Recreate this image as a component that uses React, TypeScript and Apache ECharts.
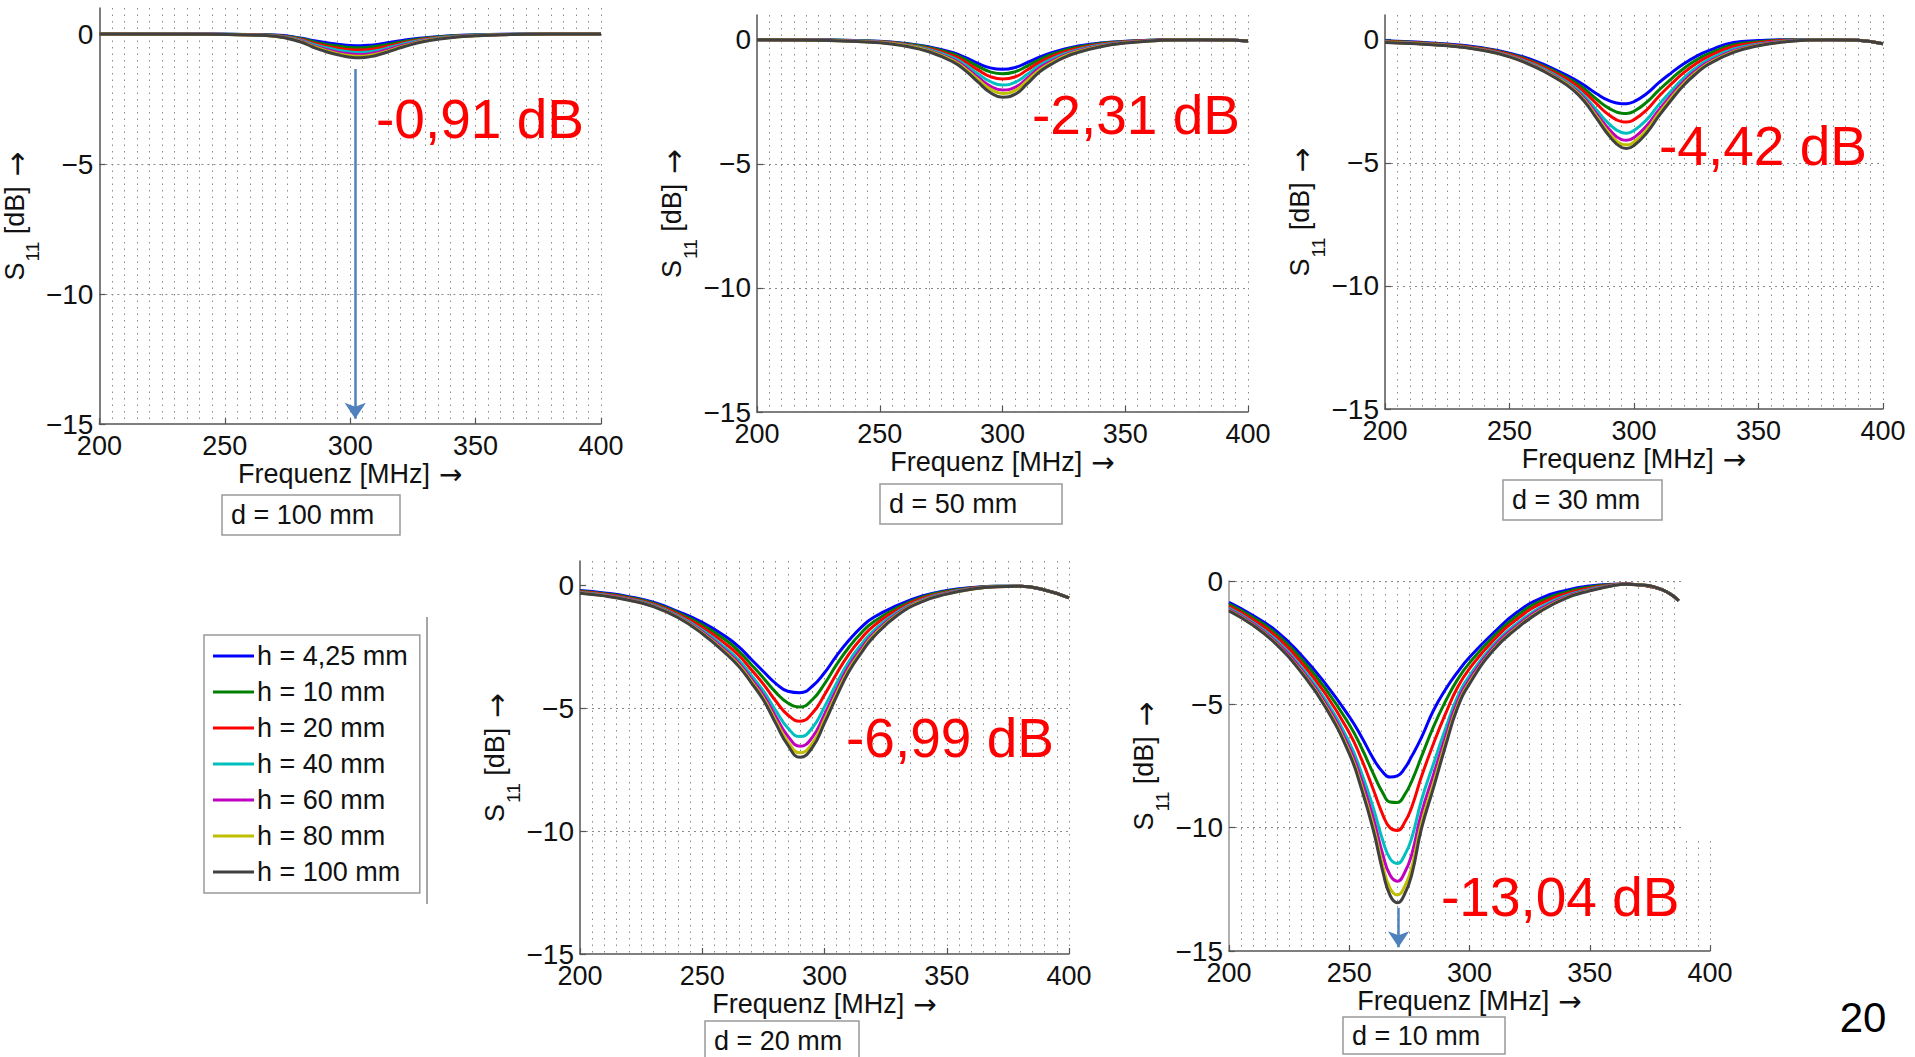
import React, { useEffect, useRef } from 'react';
import * as echarts from 'echarts';

// ---------- labels ----------
const H_LABELS = ['h = 4,25 mm', 'h = 10 mm', 'h = 20 mm', 'h = 40 mm', 'h = 60 mm', 'h = 80 mm', 'h = 100 mm'];
const D_LABELS = ['d = 100 mm', 'd = 50 mm', 'd = 30 mm', 'd = 20 mm', 'd = 10 mm'];
const DIP_LABELS = ['-0,91 dB', '-2,31 dB', '-4,42 dB', '-6,99 dB', '-13,04 dB'];
const Y_TICKS = [-15, -10, -5, 0];
const PAGE_NUMBER = '20';
const COLORS = ['#0000ff', '#008000', '#ff0000', '#00bfbf', '#bf00bf', '#bfbf00', '#404040'];

// ---------- d = 100 mm ----------
const FREQ_D100 = [200, 240, 260, 270, 280, 285, 290, 295, 300, 304, 308, 312, 316, 320, 325, 330, 340, 350, 360, 380, 400];
const D100_H4 = [0, 0, -0.02, -0.04, -0.15, -0.25, -0.33, -0.39, -0.44, -0.45, -0.43, -0.38, -0.32, -0.26, -0.19, -0.14, -0.07, -0.03, -0.01, 0, 0];
const D100_H10 = [0, -0.01, -0.02, -0.05, -0.17, -0.29, -0.39, -0.46, -0.52, -0.53, -0.5, -0.45, -0.38, -0.31, -0.23, -0.16, -0.08, -0.04, -0.02, 0, 0];
const D100_H20 = [0, -0.01, -0.03, -0.06, -0.2, -0.34, -0.46, -0.54, -0.61, -0.62, -0.59, -0.53, -0.45, -0.36, -0.27, -0.19, -0.1, -0.05, -0.02, 0, 0];
const D100_H40 = [0, -0.01, -0.03, -0.07, -0.23, -0.39, -0.52, -0.62, -0.69, -0.71, -0.68, -0.61, -0.51, -0.41, -0.3, -0.22, -0.11, -0.05, -0.02, 0, 0];
const D100_H60 = [0, -0.01, -0.03, -0.08, -0.26, -0.44, -0.58, -0.7, -0.77, -0.79, -0.76, -0.68, -0.57, -0.46, -0.34, -0.24, -0.12, -0.06, -0.03, 0, 0];
const D100_H80 = [0, -0.01, -0.04, -0.09, -0.28, -0.47, -0.63, -0.76, -0.84, -0.86, -0.82, -0.74, -0.62, -0.5, -0.37, -0.26, -0.13, -0.07, -0.03, 0, 0];
const D100_H100 = [0, -0.01, -0.04, -0.09, -0.3, -0.5, -0.67, -0.8, -0.89, -0.91, -0.87, -0.78, -0.66, -0.53, -0.39, -0.28, -0.14, -0.07, -0.03, 0, 0];

// ---------- d = 50 mm ----------
const FREQ_D50 = [200, 230, 250, 260, 270, 280, 285, 290, 295, 300, 305, 310, 315, 320, 325, 330, 340, 350, 360, 370, 380, 390, 400];
const D50_H4 = [0, -0.01, -0.06, -0.14, -0.28, -0.52, -0.72, -0.95, -1.13, -1.19, -1.12, -0.92, -0.7, -0.52, -0.38, -0.27, -0.13, -0.06, -0.02, 0, 0, -0.01, -0.05];
const D50_H10 = [0, -0.01, -0.07, -0.16, -0.31, -0.58, -0.8, -1.07, -1.29, -1.37, -1.29, -1.06, -0.8, -0.59, -0.43, -0.31, -0.15, -0.07, -0.02, 0, 0, -0.01, -0.05];
const D50_H20 = [0, -0.02, -0.08, -0.18, -0.35, -0.65, -0.91, -1.21, -1.48, -1.58, -1.5, -1.22, -0.91, -0.68, -0.5, -0.36, -0.18, -0.08, -0.03, 0, 0, -0.01, -0.05];
const D50_H40 = [0, -0.02, -0.09, -0.2, -0.39, -0.73, -1.02, -1.37, -1.68, -1.82, -1.72, -1.4, -1.04, -0.78, -0.57, -0.42, -0.21, -0.1, -0.04, -0.01, 0, -0.01, -0.05];
const D50_H60 = [0, -0.02, -0.1, -0.22, -0.43, -0.8, -1.11, -1.51, -1.86, -2.02, -1.92, -1.56, -1.14, -0.86, -0.63, -0.46, -0.24, -0.11, -0.04, -0.01, 0, -0.01, -0.05];
const D50_H80 = [0, -0.03, -0.11, -0.23, -0.45, -0.85, -1.18, -1.6, -1.98, -2.16, -2.05, -1.66, -1.22, -0.92, -0.67, -0.49, -0.26, -0.12, -0.05, -0.01, 0, -0.01, -0.05];
const D50_H100 = [0, -0.03, -0.12, -0.25, -0.48, -0.9, -1.25, -1.7, -2.12, -2.31, -2.2, -1.78, -1.3, -0.98, -0.72, -0.53, -0.28, -0.13, -0.05, -0.01, 0, -0.01, -0.05];

// ---------- d = 30 mm ----------
const FREQ_D30 = [200, 225, 240, 250, 260, 270, 275, 280, 285, 290, 295, 297, 300, 305, 310, 315, 320, 325, 330, 340, 350, 360, 370, 380, 390, 400];
const D30_H4 = [-0.05, -0.18, -0.35, -0.55, -0.85, -1.3, -1.55, -1.85, -2.2, -2.48, -2.6, -2.6, -2.52, -2.2, -1.75, -1.35, -0.98, -0.68, -0.45, -0.12, -0.04, 0, 0, 0, -0.03, -0.17];
const D30_H10 = [-0.06, -0.2, -0.37, -0.58, -0.91, -1.38, -1.65, -1.99, -2.42, -2.79, -2.99, -3.0, -2.91, -2.55, -2.05, -1.59, -1.17, -0.83, -0.57, -0.21, -0.09, -0.02, 0, 0, -0.03, -0.17];
const D30_H20 = [-0.08, -0.21, -0.39, -0.61, -0.95, -1.44, -1.73, -2.12, -2.61, -3.06, -3.33, -3.35, -3.25, -2.86, -2.3, -1.8, -1.34, -0.97, -0.68, -0.28, -0.13, -0.04, -0.01, 0, -0.03, -0.17];
const D30_H40 = [-0.1, -0.23, -0.42, -0.65, -1.02, -1.53, -1.85, -2.28, -2.86, -3.42, -3.77, -3.8, -3.69, -3.26, -2.64, -2.08, -1.55, -1.14, -0.81, -0.38, -0.18, -0.07, -0.01, 0, -0.03, -0.17];
const D30_H60 = [-0.11, -0.24, -0.43, -0.67, -1.06, -1.59, -1.92, -2.38, -3.02, -3.64, -4.06, -4.09, -3.98, -3.51, -2.86, -2.25, -1.69, -1.25, -0.9, -0.45, -0.21, -0.08, -0.02, 0, -0.03, -0.17];
const D30_H80 = [-0.11, -0.24, -0.44, -0.69, -1.08, -1.62, -1.96, -2.45, -3.12, -3.79, -4.24, -4.27, -4.16, -3.67, -2.99, -2.36, -1.78, -1.32, -0.96, -0.49, -0.23, -0.09, -0.02, 0, -0.03, -0.17];
const D30_H100 = [-0.12, -0.25, -0.45, -0.7, -1.1, -1.65, -2.0, -2.5, -3.2, -3.9, -4.38, -4.42, -4.3, -3.8, -3.1, -2.45, -1.85, -1.38, -1.0, -0.52, -0.25, -0.1, -0.02, 0, -0.03, -0.17];

// ---------- d = 20 mm ----------
const FREQ_D20 = [200, 210, 220, 230, 240, 250, 260, 265, 270, 275, 280, 285, 290, 295, 300, 305, 310, 315, 320, 330, 340, 350, 360, 370, 380, 390, 400];
const D20_H4 = [-0.2, -0.3, -0.45, -0.68, -1.05, -1.5, -2.1, -2.5, -3.0, -3.5, -3.98, -4.3, -4.36, -4.1, -3.55, -2.85, -2.23, -1.7, -1.3, -0.8, -0.42, -0.2, -0.08, -0.03, -0.03, -0.18, -0.5];
const D20_H10 = [-0.22, -0.33, -0.48, -0.72, -1.11, -1.6, -2.25, -2.68, -3.21, -3.76, -4.34, -4.78, -4.94, -4.65, -4.0, -3.21, -2.51, -1.93, -1.48, -0.89, -0.47, -0.23, -0.1, -0.03, -0.03, -0.18, -0.5];
const D20_H20 = [-0.25, -0.35, -0.52, -0.76, -1.16, -1.7, -2.41, -2.85, -3.42, -4.01, -4.69, -5.27, -5.52, -5.2, -4.45, -3.58, -2.79, -2.16, -1.65, -0.98, -0.52, -0.27, -0.11, -0.04, -0.03, -0.18, -0.5];
const D20_H40 = [-0.28, -0.38, -0.55, -0.8, -1.22, -1.81, -2.58, -3.04, -3.65, -4.29, -5.08, -5.8, -6.15, -5.8, -4.94, -3.97, -3.09, -2.41, -1.84, -1.07, -0.58, -0.3, -0.13, -0.04, -0.03, -0.18, -0.5];
const D20_H60 = [-0.29, -0.4, -0.57, -0.83, -1.26, -1.88, -2.68, -3.16, -3.79, -4.46, -5.32, -6.13, -6.54, -6.18, -5.25, -4.22, -3.28, -2.57, -1.96, -1.13, -0.61, -0.32, -0.14, -0.05, -0.03, -0.18, -0.5];
const D20_H80 = [-0.3, -0.41, -0.59, -0.85, -1.28, -1.93, -2.75, -3.24, -3.88, -4.58, -5.49, -6.35, -6.81, -6.43, -5.46, -4.38, -3.41, -2.68, -2.04, -1.17, -0.63, -0.34, -0.15, -0.05, -0.03, -0.18, -0.5];
const D20_H100 = [-0.31, -0.42, -0.6, -0.86, -1.3, -1.96, -2.8, -3.3, -3.95, -4.66, -5.6, -6.5, -6.99, -6.6, -5.6, -4.5, -3.5, -2.75, -2.1, -1.2, -0.65, -0.35, -0.15, -0.05, -0.03, -0.18, -0.5];

// ---------- d = 10 mm ----------
const FREQ_D10 = [200, 210, 220, 230, 240, 250, 255, 260, 264, 267, 270, 273, 276, 280, 285, 290, 295, 300, 310, 320, 330, 340, 350, 360, 365, 370, 380, 387];
const D10_H4 = [-0.87, -1.4, -2.05, -3.0, -4.15, -5.5, -6.3, -7.2, -7.75, -7.95, -7.9, -7.6, -7.1, -6.35, -5.25, -4.4, -3.7, -3.09, -2.1, -1.25, -0.68, -0.38, -0.2, -0.13, -0.12, -0.15, -0.35, -0.8];
const D10_H10 = [-0.94, -1.48, -2.17, -3.15, -4.35, -5.82, -6.74, -7.81, -8.6, -8.96, -8.98, -8.67, -8.11, -7.13, -5.91, -4.88, -4.0, -3.32, -2.25, -1.39, -0.79, -0.45, -0.24, -0.14, -0.12, -0.15, -0.35, -0.8];
const D10_H20 = [-1.02, -1.57, -2.29, -3.3, -4.56, -6.15, -7.2, -8.45, -9.49, -10.01, -10.11, -9.79, -9.16, -7.94, -6.6, -5.39, -4.32, -3.55, -2.4, -1.53, -0.9, -0.52, -0.29, -0.15, -0.12, -0.15, -0.35, -0.8];
const D10_H40 = [-1.1, -1.68, -2.43, -3.48, -4.81, -6.54, -7.75, -9.2, -10.54, -11.26, -11.45, -11.12, -10.41, -8.9, -7.42, -5.99, -4.7, -3.84, -2.58, -1.7, -1.04, -0.6, -0.34, -0.16, -0.13, -0.15, -0.35, -0.8];
const D10_H60 = [-1.15, -1.73, -2.51, -3.58, -4.94, -6.75, -8.04, -9.61, -11.11, -11.93, -12.17, -11.83, -11.08, -9.42, -7.86, -6.31, -4.9, -3.99, -2.68, -1.79, -1.11, -0.65, -0.37, -0.17, -0.13, -0.15, -0.35, -0.8];
const D10_H80 = [-1.19, -1.78, -2.57, -3.66, -5.04, -6.91, -8.27, -9.93, -11.56, -12.46, -12.73, -12.39, -11.61, -9.83, -8.21, -6.56, -5.06, -4.11, -2.76, -1.86, -1.17, -0.68, -0.39, -0.18, -0.13, -0.15, -0.35, -0.8];
const D10_H100 = [-1.21, -1.8, -2.6, -3.7, -5.1, -7.0, -8.4, -10.1, -11.8, -12.75, -13.04, -12.7, -11.9, -10.05, -8.4, -6.7, -5.15, -4.17, -2.8, -1.9, -1.2, -0.7, -0.4, -0.18, -0.13, -0.15, -0.35, -0.8];

// arrows marking the deepest minimum (MHz, dB)
const ARROW_D100 = [[302, -1.35], [302, -14.8]];
const ARROW_D10 = [[270.5, -13.25], [270.5, -14.85]];

const PLOTS = [
  { freq: FREQ_D100, curves: [D100_H4, D100_H10, D100_H20, D100_H40, D100_H60, D100_H80, D100_H100], yMax: 1 },
  { freq: FREQ_D50, curves: [D50_H4, D50_H10, D50_H20, D50_H40, D50_H60, D50_H80, D50_H100], yMax: 1 },
  { freq: FREQ_D30, curves: [D30_H4, D30_H10, D30_H20, D30_H40, D30_H60, D30_H80, D30_H100], yMax: 1 },
  { freq: FREQ_D20, curves: [D20_H4, D20_H10, D20_H20, D20_H40, D20_H60, D20_H80, D20_H100], yMax: 1 },
  { freq: FREQ_D10, curves: [D10_H4, D10_H10, D10_H20, D10_H40, D10_H60, D10_H80, D10_H100], yMax: 0 },
];

// ---------- layout (pixels) ----------
const LAYOUT = [
  { left: 98, top: 8, width: 503, height: 416, box: [222, 495, 178, 40], dip: [376, 119], yAxisColor: '#555' },
  { left: 757, top: 15, width: 491, height: 397, box: [880, 484, 182, 40], dip: [1032, 115], yAxisColor: '#555' },
  { left: 1385, top: 15, width: 498, height: 394, box: [1503, 480, 159, 40], dip: [1659, 146], yAxisColor: '#555' },
  { left: 580, top: 561, width: 489, height: 393, box: [705, 1021, 154, 40], dip: [846, 738], yAxisColor: '#555' },
  { left: 1229, top: 581, width: 481, height: 370, box: [1343, 1017, 162, 37], dip: [1441, 897], yAxisColor: '#999' },
];

const FONT = '"Liberation Sans", Arial, Helvetica, sans-serif';
const ARROW_FONT = '"DejaVu Sans", sans-serif';
const DOT = [1.5, 5];

export default function App() {
  const ref = useRef<HTMLDivElement>(null);

  useEffect(() => {
    if (!ref.current) return;
    const chart = echarts.init(ref.current, undefined, { renderer: 'svg' });

    const grid = LAYOUT.map((l) => ({ left: l.left, top: l.top, width: l.width, height: l.height, containLabel: false }));

    const xAxis = PLOTS.map((_, i) => ({
      type: 'value',
      gridIndex: i,
      min: 200,
      max: 400,
      interval: 50,
      name: '{t|Frequenz [MHz]}{r| →}',
      nameLocation: 'middle',
      nameGap: 34,
      nameTextStyle: {
        fontSize: 27,
        color: '#111',
        fontFamily: FONT,
        rich: {
          t: { fontSize: 27, color: '#111', fontFamily: FONT, lineHeight: 32 },
          r: { fontSize: 28, color: '#111', fontFamily: ARROW_FONT, lineHeight: 32 },
        },
      },
      axisLine: { show: true, onZero: false, lineStyle: { color: '#555', width: 1.5 } },
      axisTick: { show: true, inside: true, length: 6, lineStyle: { color: '#555', width: 1.2 } },
      axisLabel: { fontSize: 27, color: '#111', fontFamily: FONT, margin: 8 },
      splitLine: { show: true, showMinLine: false, lineStyle: { color: '#8a8a8a', width: 1, type: DOT } },
      minorTick: { show: false, splitNumber: 10 },
      minorSplitLine: { show: true, lineStyle: { color: '#8a8a8a', width: 1, type: DOT } },
    }));

    const yAxis = PLOTS.map((p, i) => ({
      type: 'value',
      gridIndex: i,
      min: -15,
      max: p.yMax,
      interval: 5,
      name: '{a|S}{b|11}{a| [dB]}{r| →}',
      nameLocation: 'middle',
      nameRotate: 90,
      nameGap: 52,
      nameTextStyle: {
        color: '#111',
        fontFamily: FONT,
        rich: {
          a: { fontSize: 27, lineHeight: 34, verticalAlign: 'top', fontFamily: FONT, color: '#111' },
          b: { fontSize: 19, lineHeight: 20, padding: [22, 0, 0, 1], verticalAlign: 'top', fontFamily: FONT, color: '#111' },
          r: { fontSize: 30, lineHeight: 34, verticalAlign: 'top', fontFamily: ARROW_FONT, color: '#111' },
        },
      },
      axisLine: { show: true, onZero: false, lineStyle: { color: LAYOUT[i].yAxisColor, width: 1.5 } },
      axisTick: { show: true, inside: true, length: 6, customValues: Y_TICKS, lineStyle: { color: '#555', width: 1.2 } },
      axisLabel: {
        fontSize: 28,
        color: '#111',
        fontFamily: FONT,
        margin: 6,
        customValues: Y_TICKS,
        formatter: (v: number) => (v < 0 ? '\u2212' + String(-v) : String(v)),
      },
      splitLine: {
        show: true,
        showMinLine: false,
        showMaxLine: p.yMax === 0,
        lineStyle: { color: '#8a8a8a', width: 1, type: [2, 4] },
      },
    }));

    const series: any[] = [];
    PLOTS.forEach((p, i) => {
      p.curves.forEach((vals, j) => {
        const s: any = {
          type: 'line',
          name: H_LABELS[j],
          xAxisIndex: i,
          yAxisIndex: i,
          data: p.freq.map((f, k) => [f, vals[k]]),
          symbol: 'none',
          smooth: 0.5,
          lineStyle: { color: COLORS[j], width: 3 },
          itemStyle: { color: COLORS[j] },
          emphasis: { disabled: true },
          z: 3,
        };
        if (j === 6 && (i === 0 || i === 4)) {
          const a = i === 0 ? ARROW_D100 : ARROW_D10;
          s.markLine = {
            silent: true,
            symbol: ['none', 'arrow'],
            symbolSize: 16,
            label: { show: false },
            lineStyle: { color: '#4f81bd', width: 2.5, type: 'solid' },
            emphasis: { disabled: true },
            data: [[{ coord: a[0] }, { coord: a[1] }]],
          };
        }
        series.push(s);
      });
    });

    const graphic: any[] = [];
    LAYOUT.forEach((l, i) => {
      graphic.push({
        type: 'text',
        x: l.dip[0],
        y: l.dip[1],
        z: 10,
        style: {
          text: DIP_LABELS[i],
          fill: '#ff0000',
          font: '55px ' + FONT,
          textAlign: 'left',
          textVerticalAlign: 'middle',
          align: 'left',
          verticalAlign: 'middle',
        },
      });
      const [bx, by, bw, bh] = l.box;
      graphic.push({
        type: 'rect',
        shape: { x: bx, y: by, width: bw, height: bh },
        style: { fill: '#fff', stroke: '#999', lineWidth: 1.5 },
        z: 10,
      });
      graphic.push({
        type: 'text',
        x: bx + 9,
        y: by + bh / 2,
        z: 11,
        style: {
          text: D_LABELS[i],
          fill: '#111',
          font: '27px ' + FONT,
          textAlign: 'left',
          textVerticalAlign: 'middle',
          align: 'left',
          verticalAlign: 'middle',
        },
      });
    });
    // white cut-out in the d = 10 mm panel (top right corner)
    graphic.push({
      type: 'rect',
      shape: { x: 1682, y: 570, width: 34, height: 266 },
      style: { fill: '#fff' },
      z: 1,
    });
    // vertical separator line next to the legend
    graphic.push({
      type: 'line',
      shape: { x1: 427, y1: 617, x2: 427, y2: 904 },
      style: { stroke: '#888', lineWidth: 1.5 },
    });
    // page number
    graphic.push({
      type: 'text',
      x: 1863,
      y: 1017,
      style: {
        text: PAGE_NUMBER,
        fill: '#000',
        font: '42px ' + FONT,
        textAlign: 'center',
        textVerticalAlign: 'middle',
        align: 'center',
        verticalAlign: 'middle',
      },
    });

    chart.setOption({
      animation: false,
      backgroundColor: '#ffffff',
      grid,
      xAxis,
      yAxis,
      series,
      legend: {
        data: H_LABELS,
        orient: 'vertical',
        left: 204,
        top: 635,
        padding: [6, 12, 6, 9],
        itemWidth: 41,
        itemHeight: 3,
        itemGap: 6,
        icon: 'rect',
        selectedMode: false,
        backgroundColor: '#fff',
        borderColor: '#999',
        borderWidth: 1.5,
        borderRadius: 0,
        textStyle: { fontSize: 27, lineHeight: 30, color: '#111', fontFamily: FONT, padding: [0, 0, 0, -2] },
      },
      graphic,
    });

    return () => chart.dispose();
  }, []);

  return (
    <div
      ref={ref}
      style={{ position: 'fixed', left: 0, top: 0, width: 1915, height: 1057, background: '#fff' }}
    />
  );
}
